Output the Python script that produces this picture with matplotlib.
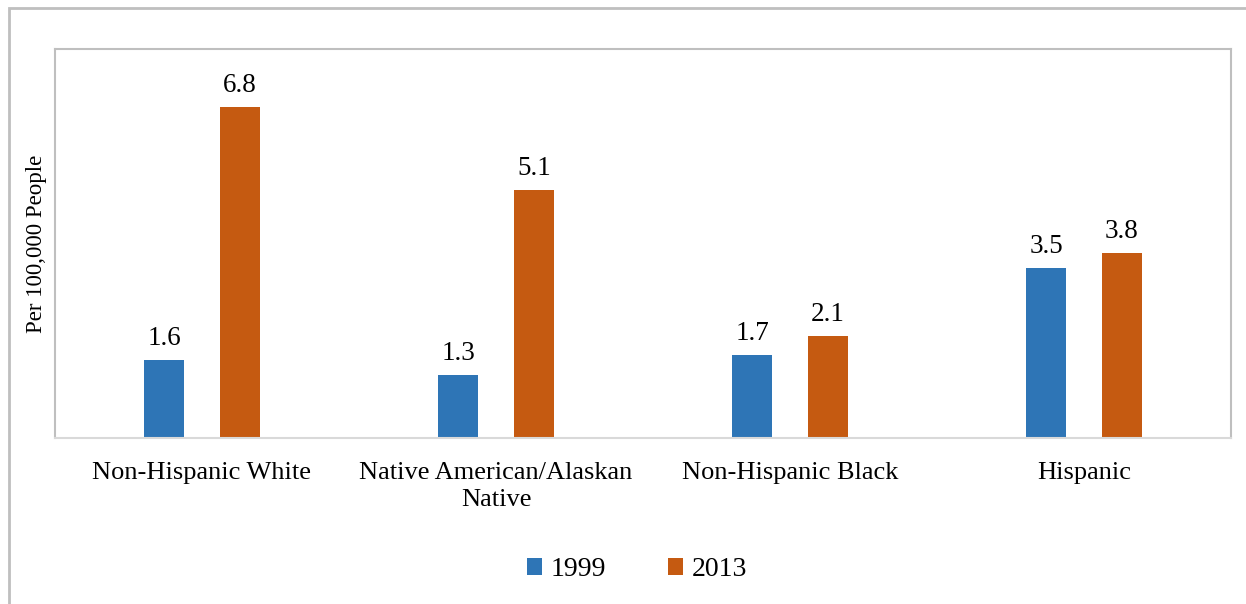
import matplotlib.pyplot as plt
from matplotlib.patches import Rectangle
import numpy as np

plt.rcParams['font.family'] = ['Liberation Serif', 'DejaVu Serif']

# Datos
categories = ["Non-Hispanic White", "Native American/Alaskan\nNative",
              "Non-Hispanic Black", "Hispanic"]
vals_1999 = [1.6, 1.3, 1.7, 3.5]
vals_2013 = [6.8, 5.1, 2.1, 3.8]
series_names = ["1999", "2013"]

c_blue = "#2E75B6"
c_orange = "#C55A11"

fig = plt.figure(figsize=(12.46, 6.04), dpi=100)
# Marco exterior
fig.patches.append(Rectangle((9/1246, -0.1), 1.2, (604-8)/604 + 0.1,
                             transform=fig.transFigure, fill=False,
                             edgecolor="#BFBFBF", linewidth=2))

ax = fig.add_axes([55/1246, 1 - 438/604, (1231-55)/1246, (438-49)/604])

x = np.arange(len(categories))
w = 0.136
off = 0.129
b1 = ax.bar(x - off, vals_1999, w, color=c_blue, label=series_names[0])
b2 = ax.bar(x + off, vals_2013, w, color=c_orange, label=series_names[1])

for bars in (b1, b2):
    for b in bars:
        ax.text(b.get_x() + b.get_width()/2, b.get_height() + 0.19,
                f"{b.get_height():.1f}", ha="center", va="bottom", fontsize=19.5)

ax.set_xlim(-0.5, len(categories) - 0.5)
ax.set_ylim(0, 8)
ax.set_yticks([])
ax.set_xticks(x)
ax.set_xticklabels(categories, fontsize=19, linespacing=1.3)
ax.tick_params(axis="x", length=0, pad=17)
ax.set_ylabel("Per 100,000 People", fontsize=16.5, labelpad=6)

for s in ax.spines.values():
    s.set_color("#BFBFBF")
    s.set_linewidth(1.5)
ax.spines["bottom"].set_color("#D9D9D9")

leg = fig.legend(handles=[b1, b2], labels=series_names, loc="center",
                 bbox_to_anchor=(637/1246, 1 - 570/604), ncol=2, frameon=False,
                 fontsize=20, handlelength=0.54, handleheight=0.54,
                 handletextpad=0.32, columnspacing=2.2)

fig.savefig("out.png", dpi=100)
